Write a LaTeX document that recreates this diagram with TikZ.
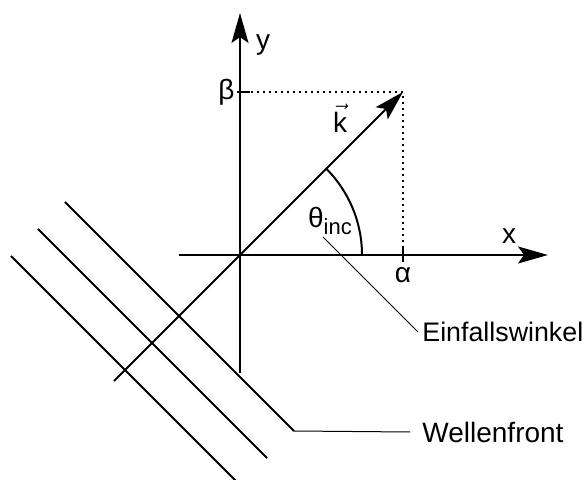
\documentclass[tikz,border=0pt]{standalone}
\usepackage{fontspec}
\setmainfont{Liberation Sans}
\usetikzlibrary{arrows.meta}

\begin{document}
\begin{tikzpicture}[x=0.5pt,y=0.5pt,font=\fontsize{14}{17}\selectfont,
axis/.style={line width=1pt,-{Stealth[length=15pt,width=8.5pt,inset=3pt]}},
wave/.style={line width=0.9pt},
leader/.style={line width=0.5pt},
helper/.style={dotted,line width=1pt}]
\useasboundingbox (-240,255) rectangle (347,-225);
% axes and wave vector
\coordinate (origin) at (0,0);
\coordinate (xstart) at (-61,0);
\coordinate (xend) at (308,0);
\coordinate (ystart) at (0,-118);
\coordinate (yend) at (0,242);
\coordinate (kstart) at (-126,-126);
\coordinate (kend) at (163,163);
\draw[axis](xstart)--(xend);
\draw[axis](ystart)--(yend);
\draw[axis](kstart)--(kend);
\node(xlabel) at (269,19){x};
\node(ylabel) at (23,210){y};
\node(klabel) at (100,137){$\vec{\textrm{k}}$};
% components
\draw[helper](origin) rectangle (kend);
\draw[line width=1pt](-3,163)--(10,163);
\draw[line width=1pt](163,9)--(163,-7);
\node[anchor=east,inner sep=1pt](beta) at (-3,163){β};
\node(alpha) at (163,-20){α};
% angle
\draw[line width=1pt](122,0) arc[start angle=0,end angle=45,radius=122];
\node(theta) at (90,34){θ\raisebox{-0.5ex}{\fontsize{11}{13}\selectfont inc}};
\node[anchor=west,inner sep=2pt,font=\fontsize{13.4}{16}\selectfont](einfall) at (178,-77){Einfallswinkel};
\draw[leader](83,18)--(einfall.west);
% wave fronts
\foreach \t/\n in {-61/a,-88/b,-115/c}
  \draw[wave](\t-114,\t+114)--(\t+115,\t-115) coordinate(front\n);
\node[anchor=west,inner sep=6pt](welle) at (170,-177){Wellenfront};
\draw[leader](fronta)--(welle.west);
\end{tikzpicture}
\end{document}
